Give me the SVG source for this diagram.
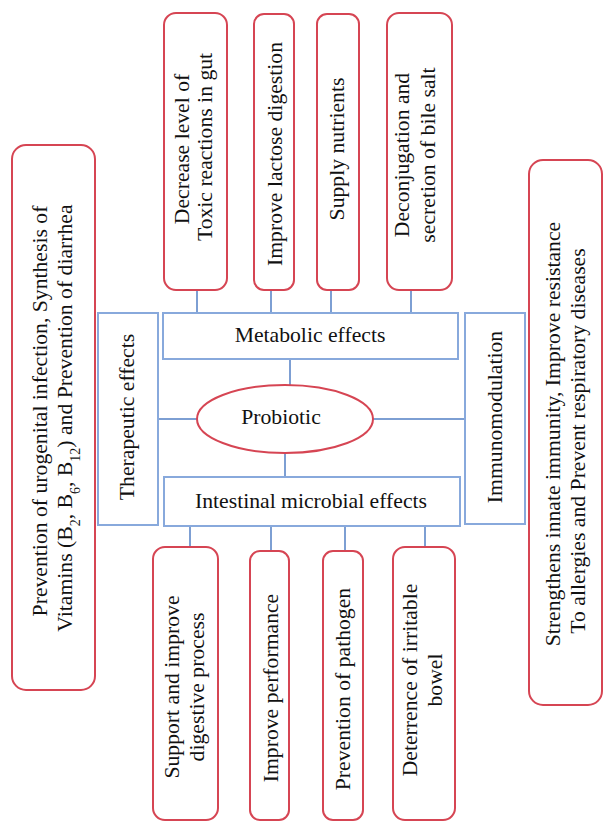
<svg xmlns="http://www.w3.org/2000/svg" width="603" height="823" viewBox="0 0 603 823">
<style>
text { font-family: "Liberation Serif", "Times New Roman", serif; font-size: 21.7px; fill: #111; text-anchor: middle; }
.red { fill: #fff; stroke: #d64553; stroke-width: 2; }
.blue { fill: #fff; stroke: #88a9dc; stroke-width: 2; }
.conn line { stroke: #7d9fd3; stroke-width: 2; }
.sub { font-size: 14px; }
</style>
<rect width="603" height="823" fill="#fff"/>

<g id="connectors" class="conn">
  <line x1="197" y1="290" x2="197" y2="313"/>
  <line x1="271" y1="290" x2="271" y2="313"/>
  <line x1="331" y1="290" x2="331" y2="313"/>
  <line x1="411" y1="290" x2="411" y2="313"/>
  <line x1="290" y1="359" x2="290" y2="385"/>
  <line x1="285" y1="453" x2="285" y2="477"/>
  <line x1="158" y1="419" x2="197" y2="419"/>
  <line x1="373" y1="419" x2="465" y2="419"/>
  <line x1="190" y1="526" x2="190" y2="547"/>
  <line x1="271" y1="526" x2="271" y2="551"/>
  <line x1="345" y1="526" x2="345" y2="551"/>
  <line x1="425" y1="526" x2="425" y2="547"/>
</g>

<g id="left-box">
  <rect class="red" x="12" y="145" width="83" height="545" rx="14"/>
  <text transform="translate(46.5,411) rotate(-90)">Prevention of urogenital infection, Synthesis of</text>
  <text transform="translate(71.5,418) rotate(-90)">Vitamins (B<tspan class="sub" baseline-shift="sub">2</tspan>, B<tspan class="sub" baseline-shift="sub">6</tspan>, B<tspan class="sub" baseline-shift="sub">12</tspan>) and Prevention of diarrhea</text>
</g>

<g id="right-box">
  <rect class="red" x="529" y="160" width="73" height="545" rx="14"/>
  <text transform="translate(559.5,434) rotate(-90)">Strengthens innate immunity, Improve resistance</text>
  <text transform="translate(584.5,441) rotate(-90)">To allergies and Prevent respiratory diseases</text>
</g>

<g id="top1">
  <rect class="red" x="164" y="13" width="63" height="277" rx="12"/>
  <text transform="translate(188.5,149) rotate(-90)">Decrease level of</text>
  <text transform="translate(211.5,147) rotate(-90)">Toxic reactions in gut</text>
</g>
<g id="top2">
  <rect class="red" x="254" y="14" width="40" height="276" rx="10"/>
  <text transform="translate(281.5,154) rotate(-90)">Improve lactose digestion</text>
</g>
<g id="top3">
  <rect class="red" x="317" y="14" width="42" height="276" rx="10"/>
  <text transform="translate(344,149) rotate(-90)">Supply nutrients</text>
</g>
<g id="top4">
  <rect class="red" x="387" y="13" width="65" height="277" rx="12"/>
  <text transform="translate(408.5,155) rotate(-90)">Deconjugation and</text>
  <text transform="translate(434.5,155) rotate(-90)">secretion of bile salt</text>
</g>

<g id="therapeutic">
  <rect class="blue" x="98" y="313" width="60" height="212"/>
  <text transform="translate(133.5,417) rotate(-90)">Therapeutic effects</text>
</g>
<g id="metabolic">
  <rect class="blue" x="163" y="313" width="295" height="46"/>
  <text x="310" y="342">Metabolic effects</text>
</g>
<g id="intestinal">
  <rect class="blue" x="164" y="477" width="296" height="49"/>
  <text x="311" y="508">Intestinal microbial effects</text>
</g>
<g id="immunomodulation">
  <rect class="blue" x="465" y="313" width="60" height="211"/>
  <text transform="translate(501.5,417) rotate(-90)">Immunomodulation</text>
</g>
<g id="probiotic">
  <ellipse class="red" cx="285" cy="419" rx="88" ry="34"/>
  <text x="281" y="424">Probiotic</text>
</g>

<g id="bottom1">
  <rect class="red" x="153" y="547" width="65" height="273" rx="12"/>
  <text transform="translate(178.5,687) rotate(-90)">Support and improve</text>
  <text transform="translate(203.5,687) rotate(-90)">digestive process</text>
</g>
<g id="bottom2">
  <rect class="red" x="250" y="551" width="39" height="269" rx="10"/>
  <text transform="translate(278,688) rotate(-90)">Improve performance</text>
</g>
<g id="bottom3">
  <rect class="red" x="323" y="551" width="40" height="269" rx="10"/>
  <text transform="translate(349.5,689) rotate(-90)">Prevention of pathogen</text>
</g>
<g id="bottom4">
  <rect class="red" x="393" y="547" width="62" height="273" rx="12"/>
  <text transform="translate(416.5,680) rotate(-90)">Deterrence of irritable</text>
  <text transform="translate(441.5,680) rotate(-90)">bowel</text>
</g>
</svg>
